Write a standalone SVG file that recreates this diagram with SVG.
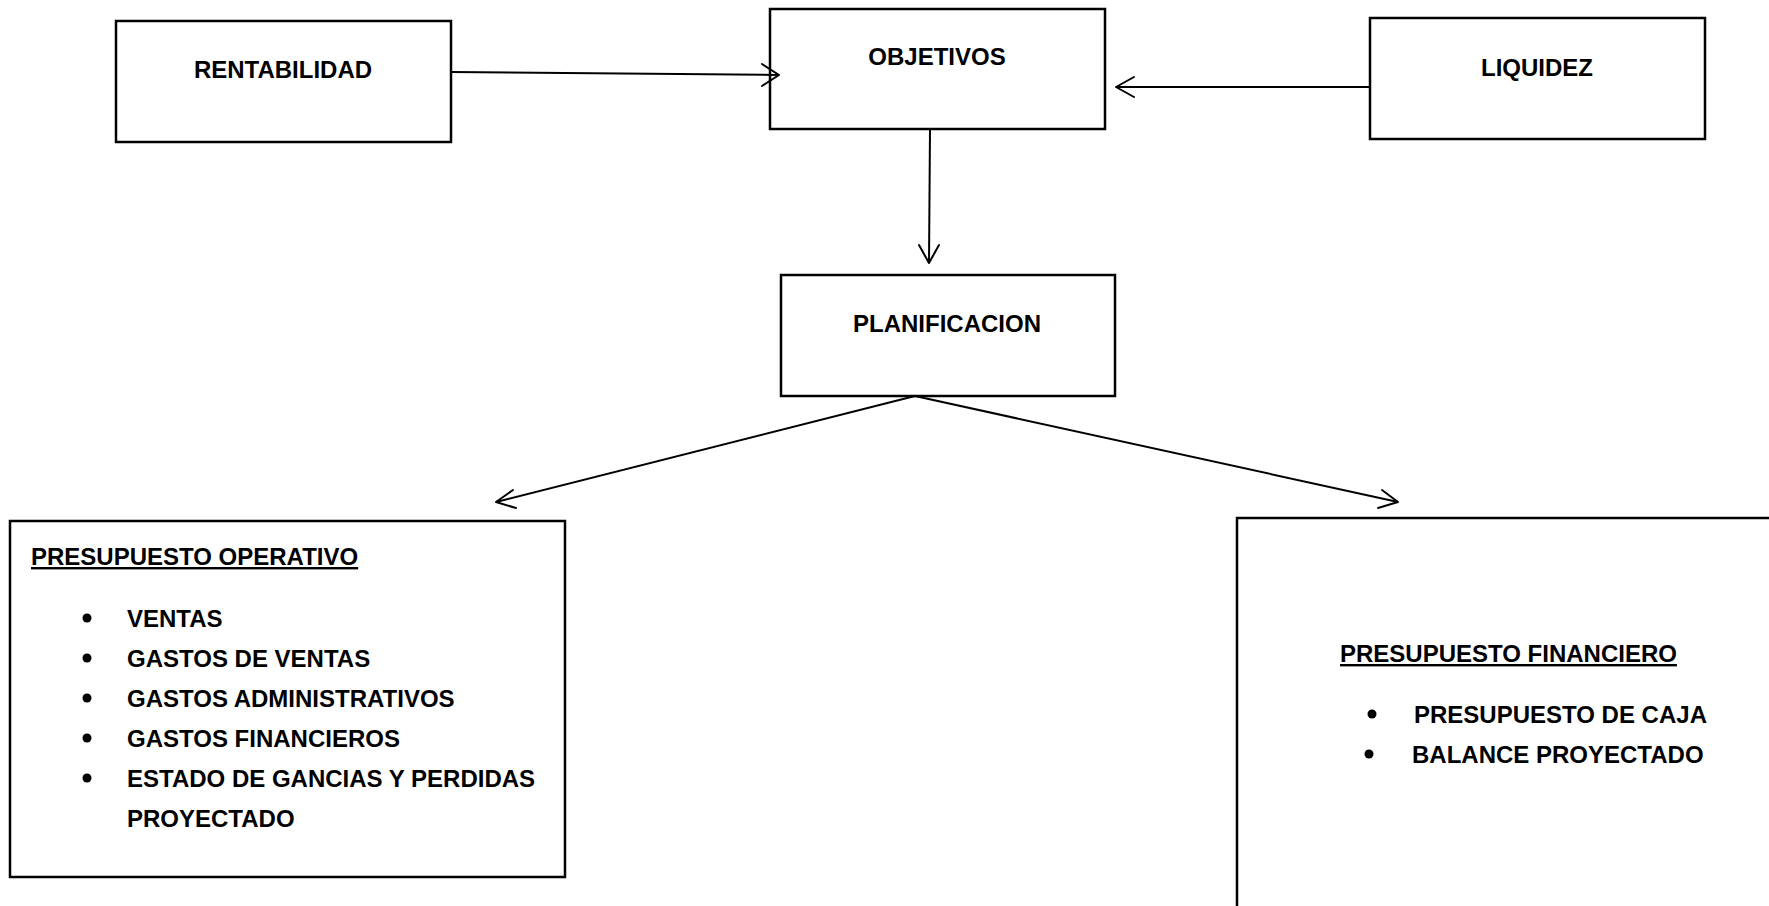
<svg xmlns="http://www.w3.org/2000/svg" width="1769" height="906" viewBox="0 0 1769 906">
<style>
.box{fill:#fff;stroke:#000;stroke-width:2.5}
.t{font-family:"Liberation Sans",Arial,sans-serif;font-weight:bold;font-size:24px;fill:#000}
.c{text-anchor:middle}
.u{text-decoration:underline}
.ln{stroke:#000;stroke-width:2;fill:none}
.hd{stroke:#000;stroke-width:2;fill:none;stroke-linecap:round;stroke-linejoin:round}
</style>
<rect width="1769" height="906" fill="#fff"/>
<g id="rentabilidad">
<rect class="box" x="116" y="21" width="335" height="121"/>
<text class="t c" x="283" y="78">RENTABILIDAD</text>
</g>
<g id="objetivos">
<rect class="box" x="770" y="9" width="335" height="120"/>
<text class="t c" x="937" y="65">OBJETIVOS</text>
</g>
<g id="liquidez">
<rect class="box" x="1370" y="18" width="335" height="121"/>
<text class="t c" x="1537" y="76">LIQUIDEZ</text>
</g>
<g id="planificacion">
<rect class="box" x="781" y="275" width="334" height="121"/>
<text class="t c" x="947" y="332">PLANIFICACION</text>
</g>
<g id="presupuesto-operativo">
<rect class="box" x="10" y="521" width="555" height="356"/>
<text class="t u" x="31" y="565">PRESUPUESTO OPERATIVO</text>
<circle cx="87" cy="618" r="4.5"/>
<text class="t" x="127" y="627">VENTAS</text>
<circle cx="87" cy="658" r="4.5"/>
<text class="t" x="127" y="667">GASTOS DE VENTAS</text>
<circle cx="87" cy="698" r="4.5"/>
<text class="t" x="127" y="707">GASTOS ADMINISTRATIVOS</text>
<circle cx="87" cy="738" r="4.5"/>
<text class="t" x="127" y="747">GASTOS FINANCIEROS</text>
<circle cx="87" cy="778" r="4.5"/>
<text class="t" x="127" y="787">ESTADO DE GANCIAS Y PERDIDAS</text>
<text class="t" x="127" y="827">PROYECTADO</text>
</g>
<g id="presupuesto-financiero">
<rect class="box" x="1237" y="518" width="600" height="420"/>
<text class="t u" x="1340" y="662">PRESUPUESTO FINANCIERO</text>
<circle cx="1372" cy="714" r="4.5"/>
<text class="t" x="1414" y="723">PRESUPUESTO DE CAJA</text>
<circle cx="1369" cy="754" r="4.5"/>
<text class="t" x="1412" y="763">BALANCE PROYECTADO</text>
</g>
<g id="connectors">
<line class="ln" x1="451" y1="72" x2="779" y2="75"/>
<polyline class="hd" points="762,64 779,75 762,86"/>
<line class="ln" x1="1370" y1="87" x2="1116" y2="87"/>
<polyline class="hd" points="1134,77 1116,87 1134,97"/>
<line class="ln" x1="930" y1="129" x2="929" y2="263"/>
<polyline class="hd" points="919,245 929,263 939,245"/>
<line class="ln" x1="915" y1="396" x2="496" y2="502"/>
<polyline class="hd" points="513,490 496,502 516,508"/>
<line class="ln" x1="915" y1="396" x2="1398" y2="502"/>
<polyline class="hd" points="1378,508 1398,502 1382,490"/>
</g>
</svg>
